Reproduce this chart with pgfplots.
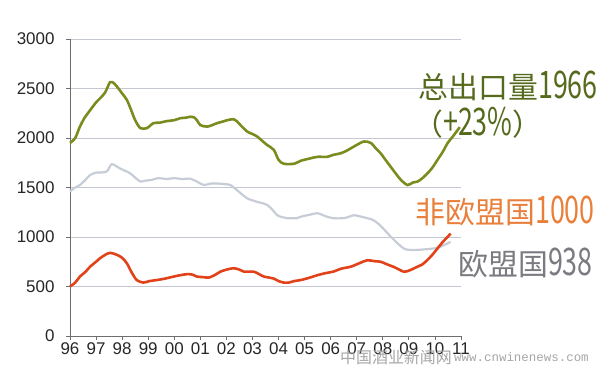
\documentclass[border=0pt]{standalone}
\usepackage{fontspec}
\setmainfont{Liberation Sans}
\newfontfamily\cjk{Noto Sans CJK SC}
\newfontfamily\monof{Liberation Mono}
\usepackage{graphicx}
\usepackage{pgfplots}
\pgfplotsset{compat=1.18}
\definecolor{olive}{HTML}{7A8C1E}
\definecolor{olivetxt}{HTML}{566A1E}
\definecolor{eugray}{HTML}{C6CDD6}
\definecolor{nonred}{HTML}{E2421A}
\definecolor{orangetxt}{HTML}{E8803C}
\definecolor{graytxt}{HTML}{7A7A80}
\definecolor{axisgray}{HTML}{6E6E6E}
\definecolor{gridc}{HTML}{C4C8D2}
\newcommand\dg[1]{\scalebox{0.9}[1.27]{#1}}
\begin{document}
\begin{tikzpicture}[x=1bp,y=1bp]
\path[use as bounding box] (0,0) rectangle (600,371);
\begin{axis}[
  at={(70bp,35bp)}, anchor=south west,
  width=391bp, height=297bp, scale only axis,
  xmin=0, xmax=15, ymin=0, ymax=3000,
  axis lines*=left,
  axis line style={axisgray, line width=1bp},
  xtick={0,...,15},
  xticklabels={96,97,98,99,00,01,02,03,04,05,06,07,08,09,10,11},
  ytick={0,500,...,3000},
  ymajorgrids,
  grid style={gridc, line width=0.9bp},
  tick align=outside,
  major tick length=4bp,
  tick style={axisgray, line width=0.8bp},
  tick label style={font=\fontsize{17}{17}\selectfont, text=black!85},
  /pgf/number format/assume math mode=true,
  scaled y ticks=false,
  yticklabel style={/pgf/number format/1000 sep={}, xshift=-8bp},
  xticklabel style={yshift=1bp},
  clip=false,
]
\addplot[eugray, line width=2.2bp, smooth] coordinates {
(0,1460) (0.2,1500) (0.38,1525) (0.6,1580) (0.77,1625) (1.0,1650) (1.4,1660)
(1.6,1735) (1.9,1695) (2.1,1670) (2.3,1645) (2.5,1600) (2.7,1560) (2.9,1570)
(3.1,1575) (3.4,1595) (3.7,1585) (4.0,1595) (4.3,1585) (4.6,1590) (4.87,1560)
(5.13,1525) (5.4,1540) (5.64,1540) (5.9,1535) (6.15,1525) (6.4,1475) (6.6,1430)
(6.8,1390) (7.0,1370) (7.18,1355) (7.4,1340) (7.56,1325) (7.75,1280) (7.95,1220)
(8.15,1200) (8.33,1190) (8.7,1190) (8.85,1205) (9.2,1225) (9.5,1240) (9.8,1210)
(10.1,1190) (10.5,1190) (10.7,1205) (10.9,1220) (11.1,1210) (11.4,1190) (11.6,1175)
(11.8,1140) (12.0,1090) (12.3,1005) (12.55,940) (12.8,885) (13.0,870) (13.33,870)
(13.6,875) (13.97,885) (14.2,900) (14.36,920) (14.6,950)
};
\addplot[olive, line width=2.6bp, smooth] coordinates {
(0,1950) (0.2,2000) (0.38,2115) (0.55,2200) (0.77,2280) (1.0,2360) (1.15,2400)
(1.35,2460) (1.54,2565) (1.7,2550) (1.8,2520) (2.0,2450) (2.18,2385) (2.35,2280)
(2.5,2180) (2.7,2100) (2.95,2100) (3.2,2150) (3.45,2155) (3.7,2170) (4.0,2180)
(4.23,2200) (4.45,2205) (4.62,2215) (4.75,2210) (4.87,2180) (5.0,2130) (5.26,2115)
(5.45,2130) (5.64,2150) (5.85,2165) (6.03,2180) (6.28,2190) (6.4,2170) (6.54,2130)
(6.8,2065) (7.0,2040) (7.18,2015) (7.4,1965) (7.56,1930) (7.82,1880) (8.0,1780)
(8.2,1740) (8.6,1740) (8.85,1770) (9.23,1795) (9.5,1810) (9.87,1810) (10.1,1830)
(10.38,1845) (10.6,1870) (10.77,1895) (11.0,1930) (11.28,1965) (11.54,1950)
(11.75,1890) (11.92,1845) (12.1,1780) (12.3,1710) (12.5,1640) (12.7,1575)
(12.95,1525) (13.15,1550) (13.33,1560) (13.5,1590) (13.72,1645) (13.9,1700)
(14.1,1780) (14.3,1860) (14.49,1950) (14.7,2020) (14.87,2080) (14.95,2110)
};
\addplot[nonred, line width=2.6bp, smooth] coordinates {
(0,500) (0.2,540) (0.38,600) (0.6,650) (0.77,700) (1.0,750) (1.15,785) (1.35,820)
(1.54,840) (1.8,820) (2.0,790) (2.18,735) (2.35,650) (2.56,565) (2.82,540)
(3.05,555) (3.33,565) (3.65,580) (3.97,600) (4.25,615) (4.5,625) (4.7,620)
(4.87,600) (5.1,595) (5.32,590) (5.55,615) (5.77,650) (6.0,670) (6.28,685)
(6.5,670) (6.67,650) (7.05,650) (7.25,625) (7.44,600) (7.65,590) (7.82,580)
(8.0,555) (8.2,540) (8.4,540) (8.6,555) (8.85,565) (9.2,590) (9.5,615) (9.8,635)
(10.1,650) (10.4,680) (10.77,700) (11.1,735) (11.4,765) (11.7,755) (11.92,750)
(12.15,725) (12.4,700) (12.6,675) (12.8,650) (13.0,660) (13.33,700) (13.5,720)
(13.7,765) (13.9,820) (14.1,885) (14.3,950) (14.5,1005) (14.6,1035)
};
\end{axis}
\node[anchor=base east, inner sep=0, text=olivetxt, font=\cjk\fontsize{30}{30}\selectfont] at (598,273) {总出口量\dg{1966}};
\node[anchor=base west, inner sep=0, text=olivetxt, font=\cjk\fontsize{30}{30}\selectfont] at (413,236) {（\dg{+23\%}）};
\node[anchor=base east, inner sep=0, text=orangetxt, font=\cjk\fontsize{30}{30}\selectfont] at (595,148) {非欧盟国\dg{1000}};
\node[anchor=base east, inner sep=0, text=graytxt, font=\cjk\fontsize{30}{30}\selectfont] at (593,96) {欧盟国\dg{938}};
\node[anchor=west, inner sep=0, text=gray!70, font=\cjk\fontsize{16}{16}\selectfont] at (340,14) {中国酒业新闻网};
\node[anchor=west, inner sep=0, text=gray!70, font=\monof\fontsize{12.5}{12.5}\selectfont] at (454,14) {www.cnwinenews.com};
\end{tikzpicture}
\end{document}
